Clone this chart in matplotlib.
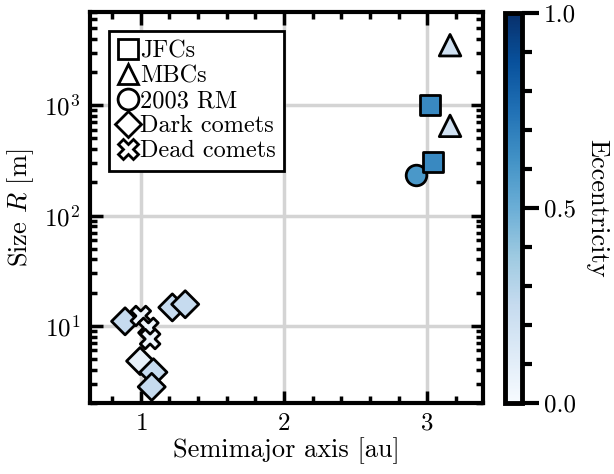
import matplotlib
matplotlib.use("Agg")
import matplotlib.pyplot as plt
import numpy as np
from matplotlib.lines import Line2D
from matplotlib.ticker import MultipleLocator, LogLocator

plt.rcParams['font.family'] = ['cmr10', 'DejaVu Serif']
plt.rcParams['mathtext.fontset'] = 'cm'
plt.rcParams['axes.formatter.use_mathtext'] = True

# semimajor axis [au], size [m], eccentricity
jfc_a = [3.02, 3.04]
jfc_r = [1000, 305]
jfc_e = [0.66, 0.66]

mbc_a = [3.16, 3.16]
mbc_r = [3500, 650]
mbc_e = [0.2, 0.2]

rm_a = [2.92]
rm_r = [235]
rm_e = [0.6]

dark_a = [0.89, 1.22, 1.31, 0.995, 1.088, 1.076]
dark_r = [11.0, 14.7, 15.7, 4.8, 3.8, 2.8]
dark_e = [0.25, 0.25, 0.25, 0.08, 0.25, 0.25]

dead_a = [1.0, 1.053, 1.065]
dead_r = [12.3, 9.6, 7.6]
dead_e = [0.05, 0.05, 0.05]

cmap = plt.get_cmap('Blues')
fig = plt.figure(figsize=(6.14, 4.74), dpi=100)
ax = fig.add_axes([0.1466, 0.1498, 0.640, 0.8249])
cax = fig.add_axes([0.8225, 0.1498, 0.0277, 0.8228])

ms = 200
kw = dict(cmap=cmap, vmin=0, vmax=1, edgecolors='black', linewidths=2.0, zorder=3)
ax.scatter(dark_a, dark_r, c=dark_e, marker='D', s=ms * 0.95, **kw)
ax.scatter(dead_a, dead_r, c=dead_e, marker='X', s=ms * 1.0, **kw)
ax.scatter(rm_a, rm_r, c=rm_e, marker='o', s=ms * 1.1, **kw)
ax.scatter(jfc_a, jfc_r, c=jfc_e, marker='s', s=ms, **kw)
sc = ax.scatter(mbc_a, mbc_r, c=mbc_e, marker='^', s=ms * 1.2, **kw)

ax.set_yscale('log')
ax.set_xlim(0.645, 3.39)
ax.set_ylim(2, 7000)
ax.xaxis.set_major_locator(MultipleLocator(1))
ax.xaxis.set_minor_locator(MultipleLocator(0.2))
ax.yaxis.set_major_locator(LogLocator(base=10, numticks=10))
ax.yaxis.set_minor_locator(LogLocator(base=10, subs=np.arange(2, 10), numticks=20))
ax.grid(True, which='major', color='#d4d4d4', linewidth=2.5, zorder=0)
ax.set_axisbelow(True)

for s in ax.spines.values():
    s.set_linewidth(3)
ax.tick_params(which='both', direction='in', top=True, right=True, width=2.5, labelsize=18)
ax.tick_params(which='major', length=9, pad=7)
ax.tick_params(which='minor', length=5)

ax.set_xlabel('Semimajor axis [au]', fontsize=19, labelpad=2)
ax.set_ylabel('Size $R$ [m]', fontsize=19, labelpad=6)

handles = [
    Line2D([], [], marker='s', ls='none', mfc='white', mec='black', mew=2, ms=15, label='JFCs'),
    Line2D([], [], marker='^', ls='none', mfc='white', mec='black', mew=2, ms=15, label='MBCs'),
    Line2D([], [], marker='o', ls='none', mfc='white', mec='black', mew=2, ms=15, label='2003 RM'),
    Line2D([], [], marker='D', ls='none', mfc='white', mec='black', mew=2, ms=13, label='Dark comets'),
    Line2D([], [], marker='X', ls='none', mfc='white', mec='black', mew=2, ms=15, label='Dead comets'),
]
leg = ax.legend(handles=handles, loc='upper left', fontsize=17.5, fancybox=False,
                framealpha=1, edgecolor='black', handlelength=0.8, handletextpad=0.1,
                labelspacing=0.12, borderpad=0.35, borderaxespad=0.8)
leg.get_frame().set_linewidth(2)

cb = fig.colorbar(sc, cax=cax)
cb.outline.set_linewidth(3.5)
cb.set_ticks([0.0, 0.5, 1.0])
cb.ax.yaxis.set_minor_locator(MultipleLocator(0.1))
cb.ax.tick_params(which='both', width=3, labelsize=18)
cb.ax.tick_params(which='major', length=12)
cb.ax.tick_params(which='minor', length=7)
cb.ax.yaxis.set_major_formatter(matplotlib.ticker.FormatStrFormatter('%.1f'))
cb.set_label('Eccentricity', fontsize=19, rotation=270, labelpad=24)

fig.savefig('out.png', dpi=100)
